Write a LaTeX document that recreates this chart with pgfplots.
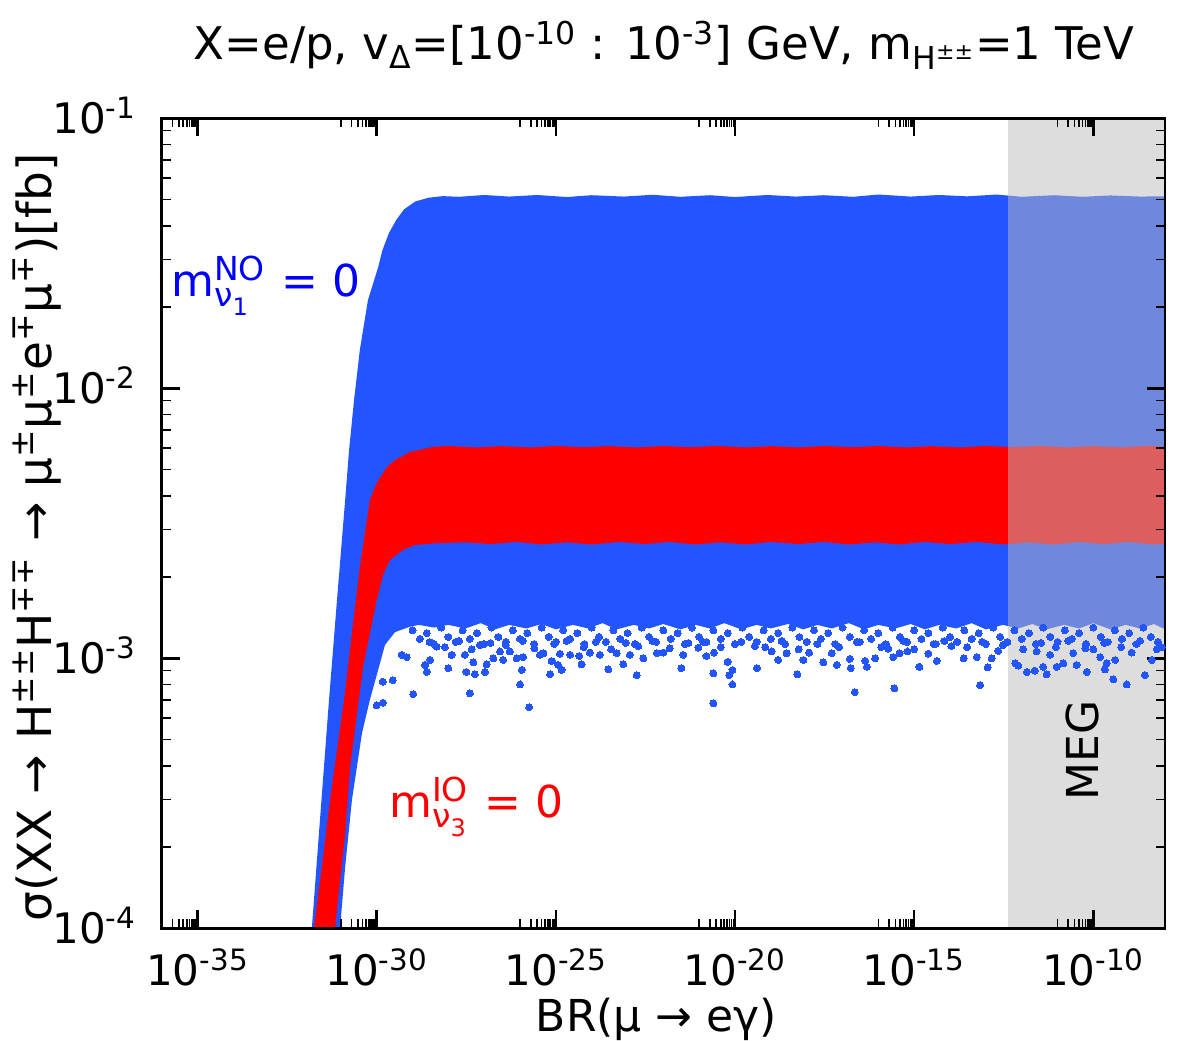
\documentclass[border=0pt]{standalone}
\usepackage{fontspec}
\setmainfont{DejaVu Sans}
\usepackage{pgfplots}
\pgfplotsset{compat=1.18}
\definecolor{blueC}{RGB}{35,85,255}
\definecolor{megg}{RGB}{188,188,188}
\newcommand{\mlab}[3]{{m\setbox0=\hbox{\raisebox{8.35pt}{\fontsize{16.5}{17}\selectfont #1}}\setbox2=\hbox{\raisebox{-5pt}{\fontsize{16.5}{17}\selectfont #2\raisebox{-4.15pt}{\fontsize{12}{13}\selectfont #3}}}\ifdim\wd0>\wd2 \rlap{\box2}\box0\else\rlap{\box0}\box2\fi}}
\begin{document}
\begin{tikzpicture}
\useasboundingbox (-80.85pt,-55.85pt) rectangle (512.65pt,464.15pt);
\begin{axis}[at={(0pt,0pt)}, anchor=south west, scale only axis,
  width=501.65pt, height=405pt,
  xmode=log, ymode=log,
  xmin=1e-36, xmax=1e-8, ymin=1e-4, ymax=1e-1,
  axis on top,
  tick align=inside, tick pos=both,
  xtick={1e-35,1e-30,1e-25,1e-20,1e-15,1e-10},
  xticklabels={10\textsuperscript{-35},10\textsuperscript{-30},10\textsuperscript{-25},10\textsuperscript{-20},10\textsuperscript{-15},10\textsuperscript{-10}},
  minor xtick={1e-36,2e-36,3e-36,4e-36,5e-36,6e-36,7e-36,8e-36,9e-36,
    1e-31,2e-31,3e-31,4e-31,5e-31,6e-31,7e-31,8e-31,9e-31,
    1e-26,2e-26,3e-26,4e-26,5e-26,6e-26,7e-26,8e-26,9e-26,
    1e-21,2e-21,3e-21,4e-21,5e-21,6e-21,7e-21,8e-21,9e-21,
    1e-16,2e-16,3e-16,4e-16,5e-16,6e-16,7e-16,8e-16,9e-16,
    1e-11,2e-11,3e-11,4e-11,5e-11,6e-11,7e-11,8e-11,9e-11},
  ytick={1e-4,1e-3,1e-2,1e-1},
  yticklabels={10\textsuperscript{-4},10\textsuperscript{-3},10\textsuperscript{-2},10\textsuperscript{-1}},
  minor ytick={2e-4,3e-4,4e-4,5e-4,6e-4,7e-4,8e-4,9e-4,
    2e-3,3e-3,4e-3,5e-3,6e-3,7e-3,8e-3,9e-3,
    2e-2,3e-2,4e-2,5e-2,6e-2,7e-2,8e-2,9e-2},
  major tick length=9pt, minor tick length=4.5pt,
  major tick style={line width=1.2pt, black},
  minor tick style={line width=0.8pt, black},
  axis line style={line width=1.3pt, black},
  tick label style={font=\fontsize{21}{24}\selectfont, inner sep=0pt},
  xticklabel style={anchor=north, yshift=-10pt},
  yticklabel style={anchor=base east, xshift=-12.5pt, yshift=-7.65pt},
]
% blue dense region (normal ordering)
\addplot[draw=none, fill=blueC] coordinates {
(1.55e-32,9e-5) (1.55e-32,1e-4) (2.45e-32,2.25e-4) (4.68e-32,7.02e-4) (7.8e-32,1.64e-3)
(1.32e-31,3.86e-3) (1.70e-31,5.92e-3) (2.34e-31,9.06e-3) (3.39e-31,1.387e-2) (5.7e-31,2.12e-2)
(1.1e-30,2.81e-2) (1.45e-30,3.25e-2) (2.2e-30,3.76e-2) (3.5e-30,4.2e-2) (5.8e-30,4.6e-2)
(1.2e-29,4.92e-2) (2.8e-29,5.08e-2) (7e-29,5.15e-2)
(2e-28,5.12e-2) (1e-27,5.2e-2) (5e-27,5.13e-2) (3e-26,5.2e-2) (2e-25,5.11e-2) (1e-24,5.19e-2)
(8e-24,5.13e-2) (5e-23,5.21e-2) (3e-22,5.12e-2) (2e-21,5.19e-2) (1e-20,5.11e-2) (8e-20,5.2e-2)
(5e-19,5.13e-2) (3e-18,5.19e-2) (2e-17,5.12e-2) (1e-16,5.22e-2) (8e-16,5.13e-2) (5e-15,5.2e-2)
(3e-14,5.14e-2) (2e-13,5.22e-2) (1e-12,5.12e-2) (8e-12,5.19e-2) (5e-11,5.12e-2) (3e-10,5.18e-2)
(2e-9,5.13e-2) (2e-8,5.15e-2)
(2e-8,1.3e-3)
(1e-8,1.28e-3) (5e-9,1.34e-3) (2e-9,1.29e-3) (8e-10,1.33e-3) (3e-10,1.28e-3) (1e-10,1.35e-3)
(4e-11,1.29e-3) (1.5e-11,1.33e-3) (5e-12,1.28e-3) (2e-12,1.34e-3) (8e-13,1.29e-3) (3e-13,1.33e-3)
(1e-13,1.28e-3) (4e-14,1.35e-3) (1.5e-14,1.29e-3) (5e-15,1.33e-3) (2e-15,1.28e-3) (8e-16,1.34e-3)
(3e-16,1.29e-3) (1e-16,1.33e-3) (4e-17,1.28e-3) (1.5e-17,1.35e-3) (5e-18,1.29e-3) (2e-18,1.33e-3)
(8e-19,1.28e-3) (3e-19,1.34e-3) (1e-19,1.29e-3) (4e-20,1.33e-3) (1.5e-20,1.28e-3) (5e-21,1.35e-3)
(2e-21,1.29e-3) (8e-22,1.33e-3) (3e-22,1.28e-3) (1e-22,1.34e-3) (4e-23,1.29e-3) (1.5e-23,1.33e-3)
(5e-24,1.28e-3) (2e-24,1.35e-3) (8e-25,1.29e-3) (3e-25,1.33e-3) (1e-25,1.28e-3) (4e-26,1.34e-3)
(1.5e-26,1.29e-3) (5e-27,1.33e-3) (2e-27,1.28e-3) (8e-28,1.35e-3) (3e-28,1.29e-3) (1e-28,1.33e-3)
(4e-29,1.3e-3) (1.5e-29,1.33e-3)
(8.5e-30,1.31e-3) (3.24e-30,1.25e-3) (1.70e-30,1.12e-3) (1.10e-30,9.06e-4) (6.46e-31,7.02e-4)
(3.89e-31,5.28e-4) (2.04e-31,2.99e-4) (1.32e-31,1.69e-4) (9.5e-32,1e-4) (9.2e-32,9e-5)
};
% blue scattered points
\addplot[only marks, mark=*, mark size=1.75pt, color=blueC, mark options={draw=blueC, fill=blueC, line width=0pt}] coordinates {
(5.0e-30,1.03e-3) (6.9e-30,1.01e-3) (2.24e-29,0.945e-3) (2.5e-29,0.89e-3) (3.1e-29,0.986e-3)
(1.0e-28,0.92e-3) (1.23e-28,1.03e-3) (2.9e-28,1.03e-3) (3.2e-28,0.89e-3) (4.0e-28,0.742e-3)
(5.0e-28,0.967e-3) (5.5e-28,0.873e-3) (1.05e-27,0.89e-3) (1.17e-27,0.951e-3) (1.8e-27,1.0e-3)
(2.75e-27,1.06e-3) (3.4e-27,0.986e-3) (5.2e-27,1.06e-3) (8.1e-27,1.0e-3) (1.0e-26,0.80e-3)
(1.12e-26,0.906e-3) (1.23e-26,1.01e-3) (1.8e-26,0.659e-3) (3.6e-26,1.03e-3) (4.5e-26,1.045e-3)
(6.9e-26,0.873e-3) (7.6e-26,0.978e-3) (1.17e-25,0.945e-3) (1.3e-25,1.04e-3) (1.45e-25,0.906e-3)
(2.5e-25,1.03e-3) (4.5e-25,1.02e-3) (5.2e-25,0.951e-3) (8.9e-25,1.05e-3) (1.7e-24,1.03e-3)
(2.9e-24,0.91e-3) (5.0e-24,1.045e-3) (7.6e-24,0.951e-3) (1.17e-23,1.03e-3) (1.8e-23,0.867e-3)
(2.75e-23,1.0e-3) (6.6e-23,1.045e-3) (1.0e-22,1.05e-3) (3.2e-22,0.92e-3) (3.6e-22,1.03e-3)
(1.05e-29,0.737e-3) (2.8e-30,0.83e-3) (1.48e-30,0.82e-3) (1.5e-30,0.685e-3) (1.0e-30,0.67e-3)
(4.7e-29,1.105e-3) (7.6e-28,1.12e-3)
(9.5e-22,1.095e-3) (1.6e-21,1.02e-3) (2.6e-21,1.05e-3) (2.5e-21,0.88e-3) (2.5e-21,0.681e-3)
(6.2e-21,0.97e-3) (6.9e-21,0.867e-3) (8.5e-21,0.906e-3) (8.5e-21,0.80e-3) (4.1e-20,0.92e-3)
(3.6e-20,1.11e-3) (1.05e-19,1.06e-3) (1.6e-19,0.986e-3) (2.75e-19,1.045e-3) (5.5e-19,0.873e-3)
(8.1e-19,0.986e-3) (1.17e-18,1.05e-3) (2.9e-18,0.967e-3) (5.0e-18,1.045e-3) (6.9e-18,0.945e-3)
(1.6e-17,0.995e-3) (1.7e-17,0.92e-3) (2.2e-17,0.749e-3) (4.3e-17,0.978e-3) (4.8e-17,0.93e-3)
(8.1e-17,1.0e-3) (2.6e-16,1.01e-3) (2.8e-16,0.774e-3) (3.9e-16,1.045e-3) (6.5e-16,1.06e-3)
(1.4e-15,0.93e-3) (2.5e-15,1.04e-3) (4.3e-15,0.978e-3) (1.1e-14,1.11e-3) (2.4e-14,1.0e-3)
(5.6e-14,1.01e-3) (6.9e-14,0.796e-3) (1.12e-13,0.925e-3) (1.45e-13,1.0e-3) (2.2e-13,1.065e-3)
(1.9e-16,1.085e-3)
(6.6e-13,0.959e-3) (8.1e-13,0.94e-3) (1.4e-12,0.89e-3) (2.3e-12,0.90e-3) (4.0e-12,0.93e-3)
(5.0e-12,0.873e-3) (6.2e-12,1.03e-3) (9.5e-12,0.93e-3) (1.45e-11,0.959e-3) (3.4e-11,0.945e-3)
(6.6e-11,0.89e-3) (1.55e-10,1.01e-3) (2.35e-10,0.959e-3) (2.1e-10,0.91e-3) (3.6e-10,0.836e-3)
(4.1e-10,0.986e-3) (8.5e-10,0.80e-3) (1.17e-9,1.05e-3) (2.75e-9,0.867e-3) (4.3e-9,0.986e-3)
(5.9e-9,1.08e-3) (2.6e-12,1.06e-3) (2.75e-11,1.045e-3) (1e-10,1.08e-3)
(3e-29,1.15e-3) (8e-29,1.1e-3) (2e-28,1.16e-3) (4.5e-28,1.08e-3) (1.5e-27,1.14e-3) (4e-27,1.12e-3)
(1.2e-26,1.16e-3) (2.5e-26,1.09e-3) (9e-26,1.13e-3) (2e-25,1.16e-3) (6e-25,1.1e-3) (1.3e-24,1.15e-3)
(3.5e-24,1.08e-3) (9e-24,1.14e-3) (2e-23,1.11e-3) (5e-23,1.16e-3) (1.5e-22,1.09e-3) (5e-22,1.14e-3)
(1.3e-21,1.15e-3) (4e-21,1.1e-3) (1.5e-20,1.15e-3) (7e-20,1.1e-3) (2e-19,1.16e-3) (6e-19,1.08e-3)
(2e-18,1.13e-3) (8e-18,1.1e-3) (3e-17,1.15e-3) (1.2e-16,1.1e-3) (5e-16,1.16e-3) (1e-15,1.08e-3)
(3.5e-15,1.13e-3) (7e-15,1.16e-3) (3e-14,1.1e-3) (8e-14,1.15e-3) (3e-13,1.12e-3) (1.1e-12,1.08e-3)
(3.5e-12,1.14e-3) (9e-12,1.1e-3) (2e-11,1.16e-3) (6e-11,1.09e-3) (2e-10,1.14e-3) (6e-10,1.1e-3)
(2e-9,1.16e-3) (8e-9,1.1e-3)
(1e-29,1.27e-3) (1.6e-29,1.18e-3) (2.5e-29,1.24e-3) (4e-29,1.13e-3) (6.3e-29,1.3e-3)
(1e-28,1.2e-3) (1.6e-28,1.15e-3) (2.5e-28,1.27e-3) (4e-28,1.18e-3) (6.3e-28,1.24e-3)
(1e-27,1.13e-3) (1.6e-27,1.3e-3) (2.5e-27,1.2e-3) (4e-27,1.15e-3) (6.3e-27,1.27e-3)
(1e-26,1.18e-3) (1.6e-26,1.24e-3) (2.5e-26,1.13e-3) (4e-26,1.3e-3) (6.3e-26,1.2e-3)
(1e-25,1.15e-3) (1.6e-25,1.27e-3) (2.5e-25,1.18e-3) (4e-25,1.24e-3) (6.3e-25,1.13e-3)
(1e-24,1.3e-3) (1.6e-24,1.2e-3) (2.5e-24,1.15e-3) (4e-24,1.27e-3) (6.3e-24,1.18e-3)
(1e-23,1.24e-3) (1.6e-23,1.13e-3) (2.5e-23,1.3e-3) (4e-23,1.2e-3) (6.3e-23,1.15e-3)
(1e-22,1.27e-3) (1.6e-22,1.18e-3) (2.5e-22,1.24e-3) (4e-22,1.13e-3) (6.3e-22,1.3e-3)
(1e-21,1.2e-3) (1.6e-21,1.15e-3) (2.5e-21,1.27e-3) (4e-21,1.18e-3) (6.3e-21,1.24e-3)
(1e-20,1.13e-3) (1.6e-20,1.3e-3) (2.5e-20,1.2e-3) (4e-20,1.15e-3) (6.3e-20,1.27e-3)
(1e-19,1.18e-3) (1.6e-19,1.24e-3) (2.5e-19,1.13e-3) (4e-19,1.3e-3) (6.3e-19,1.2e-3)
(1e-18,1.15e-3) (1.6e-18,1.27e-3) (2.5e-18,1.18e-3) (4e-18,1.24e-3) (6.3e-18,1.13e-3)
(1e-17,1.3e-3) (1.6e-17,1.2e-3) (2.5e-17,1.15e-3) (4e-17,1.27e-3) (6.3e-17,1.18e-3)
(1e-16,1.24e-3) (1.6e-16,1.13e-3) (2.5e-16,1.3e-3) (4e-16,1.2e-3) (6.3e-16,1.15e-3)
(1e-15,1.27e-3) (1.6e-15,1.18e-3) (2.5e-15,1.24e-3) (4e-15,1.13e-3) (6.3e-15,1.3e-3)
(1e-14,1.2e-3) (1.6e-14,1.15e-3) (2.5e-14,1.27e-3) (4e-14,1.18e-3) (6.3e-14,1.24e-3)
(1e-13,1.13e-3) (1.6e-13,1.3e-3) (2.5e-13,1.2e-3) (4e-13,1.15e-3) (6.3e-13,1.27e-3)
(1e-12,1.18e-3) (1.6e-12,1.24e-3) (2.5e-12,1.13e-3) (4e-12,1.3e-3) (6.3e-12,1.2e-3)
(1e-11,1.15e-3) (1.6e-11,1.27e-3) (2.5e-11,1.18e-3) (4e-11,1.24e-3) (6.3e-11,1.13e-3)
(1e-10,1.3e-3) (1.6e-10,1.2e-3) (2.5e-10,1.15e-3) (4e-10,1.27e-3) (6.3e-10,1.18e-3)
(1e-9,1.24e-3) (1.6e-9,1.13e-3) (2.5e-9,1.3e-3) (4e-9,1.2e-3) (6.3e-9,1.15e-3)
};
% red region (inverted ordering)
\addplot[draw=none, fill=red] coordinates {
(1.78e-32,9e-5) (1.78e-32,1e-4) (2.95e-32,1.69e-4) (5.0e-32,2.99e-4) (7.8e-32,4.57e-4)
(1.23e-31,7.02e-4) (2.04e-31,1.24e-3) (3.39e-31,2.18e-3) (6.46e-31,3.86e-3) (1.0e-30,4.46e-3)
(1.95e-30,5.12e-3) (3.24e-30,5.42e-3) (8.5e-30,5.81e-3) (3.7e-29,6.07e-3)
(1e-28,6.12e-3) (6e-28,6.04e-3) (3e-27,6.11e-3) (2e-26,6.04e-3) (1e-25,6.12e-3) (6e-25,6.05e-3)
(3e-24,6.11e-3) (2e-23,6.04e-3) (1e-22,6.12e-3) (6e-22,6.05e-3) (3e-21,6.12e-3) (2e-20,6.04e-3)
(1e-19,6.11e-3) (6e-19,6.04e-3) (3e-18,6.12e-3) (2e-17,6.05e-3) (1e-16,6.12e-3) (6e-16,6.04e-3)
(3e-15,6.11e-3) (2e-14,6.04e-3) (1e-13,6.12e-3) (6e-13,6.05e-3) (3e-12,6.12e-3) (2e-11,6.04e-3)
(1e-10,6.11e-3) (6e-10,6.04e-3) (3e-9,6.12e-3) (2e-8,6.07e-3)
(2e-8,2.68e-3)
(5e-9,2.64e-3) (1e-9,2.7e-3) (2e-10,2.65e-3) (4e-11,2.7e-3) (8e-12,2.64e-3) (1.5e-12,2.69e-3)
(3e-13,2.64e-3) (6e-14,2.7e-3) (1e-14,2.65e-3) (2e-15,2.7e-3) (4e-16,2.64e-3) (8e-17,2.69e-3)
(1.5e-17,2.64e-3) (3e-18,2.7e-3) (6e-19,2.65e-3) (1e-19,2.7e-3) (2e-20,2.64e-3) (4e-21,2.69e-3)
(8e-22,2.64e-3) (1.5e-22,2.7e-3) (3e-23,2.65e-3) (6e-24,2.7e-3) (1e-24,2.64e-3) (2e-25,2.69e-3)
(4e-26,2.64e-3) (8e-27,2.7e-3) (1.5e-27,2.65e-3) (3e-28,2.69e-3) (4.9e-29,2.67e-3)
(1.17e-29,2.63e-3) (5.37e-30,2.52e-3) (2.34e-30,2.31e-3) (1.51e-30,2.04e-3) (1.0e-30,1.64e-3)
(4.17e-31,9.29e-4) (1.82e-31,3.96e-4) (1.32e-31,2.25e-4) (8.3e-32,1.27e-4) (6.9e-32,1e-4) (6.9e-32,9e-5)
};
% MEG excluded band
\addplot[draw=none, fill=megg, fill opacity=0.5] coordinates {
(4.2e-13,1e-4) (1e-8,1e-4) (1e-8,1e-1) (4.2e-13,1e-1)
};
\node[rotate=90, anchor=center, inner sep=0pt, font=\fontsize{22}{26}\selectfont] at (axis cs:5.1e-11,4.57e-4) {MEG};
\node[anchor=base west, inner sep=0pt, text=blue, font=\fontsize{22}{26}\selectfont] at (axis cs:1.82e-36,0.02183) {\mlab{NO}{ν}{1}\hspace{1.5pt} = 0};
\node[anchor=base west, inner sep=0pt, text=red, font=\fontsize{22}{26}\selectfont] at (axis cs:2.19e-30,2.565e-4) {\mlab{IO}{ν}{3}\hspace{1.5pt} = 0};
\end{axis}
\node[anchor=base, inner sep=0pt, font=\fontsize{22.5}{27}\selectfont] at (251.15pt,434.15pt) {X=e/p, v\textsubscript{Δ}=[10\textsuperscript{-10} : 10\textsuperscript{-3}] GeV, m\textsubscript{H\textsuperscript{±±}}=1 TeV};
\node[anchor=base, inner sep=0pt, font=\fontsize{22}{26}\selectfont] at (247.4pt,-51.35pt) {BR(μ → eγ)};
\node[anchor=base, rotate=90, inner sep=0pt, font=\fontsize{23.5}{28}\selectfont] at (-54.85pt,195.4pt) {σ(XX → H\textsuperscript{±±}H\textsuperscript{∓∓} → μ\textsuperscript{±}μ\textsuperscript{±}e\textsuperscript{∓}μ\textsuperscript{∓})[fb]};
\end{tikzpicture}
\end{document}
